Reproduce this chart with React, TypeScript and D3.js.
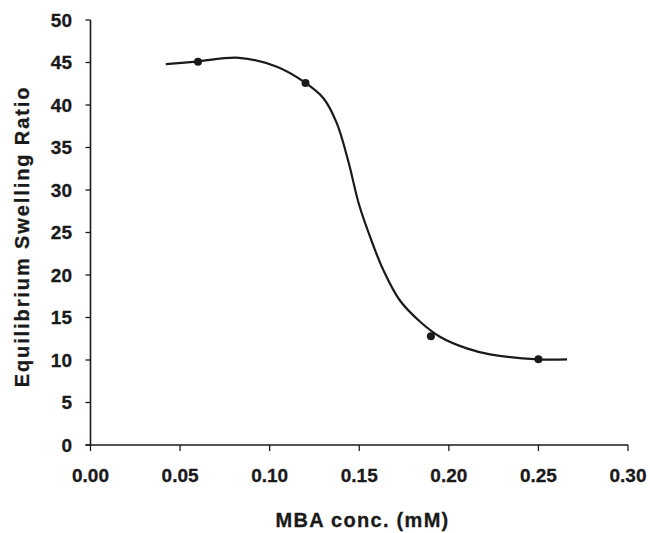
import React from "react";
import * as d3 from "d3";

const xTicks = [0, 0.05, 0.1, 0.15, 0.2, 0.25, 0.3];
const yTicks = [0, 5, 10, 15, 20, 25, 30, 35, 40, 45, 50];

const pointX = [0.06, 0.12, 0.19, 0.25];
const pointY = [45.1, 42.6, 12.8, 10.1];

const curveX = [0.042, 0.059, 0.083, 0.104, 0.119, 0.13, 0.1374, 0.144, 0.15, 0.1578, 0.1634, 0.1727, 0.184, 0.195, 0.21, 0.223, 0.25, 0.266];
const curveY = [44.8, 45.1, 45.55, 44.5, 42.74, 40.8, 37.9, 33.3, 28.2, 23.5, 20.6, 17.0, 14.5, 12.74, 11.37, 10.67, 10.08, 10.08];

const W = 650;
const H = 533;
const FONT = "'Liberation Sans', Arial, sans-serif";

export default function App() {
  const x = d3.scaleLinear().domain([0, 0.3]).range([90.5, 628]);
  const y = d3.scaleLinear().domain([0, 50]).range([445, 20]);

  const line = d3
    .line<number>()
    .x((_, i) => x(curveX[i]))
    .y((d) => y(d))
    .curve(d3.curveCatmullRom.alpha(0.5));

  const ink = "#1a1a1a";

  return (
    <svg
      width={W}
      height={H}
      style={{ position: "absolute", left: 0, top: 0, background: "#fff" }}
      fontFamily={FONT}
      fontWeight="bold"
    >
      {/* axes */}
      <line x1={x(0)} x2={x(0)} y1={y(0)} y2={y(50)} stroke={ink} strokeWidth={1.6} />
      <line x1={x(0) - 5} x2={x(0.3)} y1={y(0)} y2={y(0)} stroke={ink} strokeWidth={1.6} />
      {yTicks.map((t) => (
        <g key={"y" + t}>
          <line x1={x(0) - 5} x2={x(0)} y1={y(t)} y2={y(t)} stroke={ink} strokeWidth={1.3} />
          <text x={72} y={y(t)} dy="0.36em" textAnchor="end" fontSize={19} fill={ink} stroke={ink} strokeWidth={0.3}>
            {t}
          </text>
        </g>
      ))}
      {xTicks.map((t) => (
        <g key={"x" + t}>
          <line x1={x(t)} x2={x(t)} y1={y(0)} y2={y(0) + 6} stroke={ink} strokeWidth={1.3} />
          <text x={x(t)} y={482} textAnchor="middle" fontSize={19} fill={ink} stroke={ink} strokeWidth={0.3}>
            {t.toFixed(2)}
          </text>
        </g>
      ))}
      {/* titles */}
      <text x={362.5} y={527} textAnchor="middle" fontSize={20} letterSpacing={1.3} fill={ink} stroke={ink} strokeWidth={0.3}>
        MBA conc. (mM)
      </text>
      <text
        transform={`translate(29,236.5) rotate(-90)`}
        textAnchor="middle"
        fontSize={20}
        letterSpacing={1.9}
        fill={ink}
        stroke={ink}
        strokeWidth={0.3}
      >
        Equilibrium Swelling Ratio
      </text>
      {/* fitted curve */}
      <path d={line(curveY) || ""} fill="none" stroke={ink} strokeWidth={2.2} />
      {/* data points */}
      {pointX.map((px, i) => (
        <circle key={i} cx={x(px)} cy={y(pointY[i])} r={4} fill={ink} />
      ))}
    </svg>
  );
}
